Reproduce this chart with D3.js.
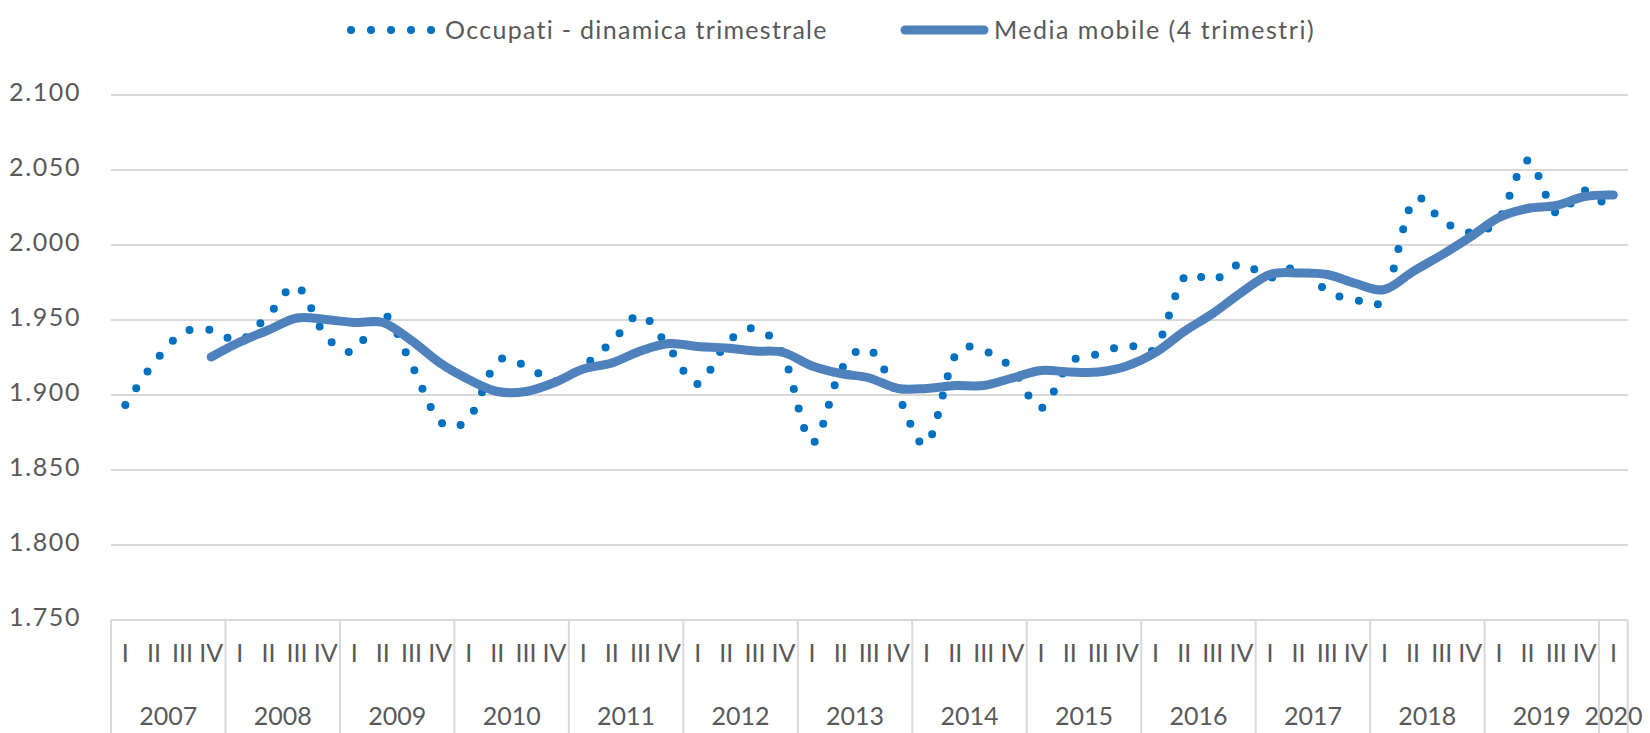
<!DOCTYPE html>
<html>
<head>
<meta charset="utf-8">
<script src="https://cdn.jsdelivr.net/npm/d3@7"></script>
<style>
  body { margin: 0; background: #fff; }
  svg text { font-family: Lato, "Open Sans", sans-serif; fill: #595959; }
</style>
</head>
<body>
<div id="chart"></div>
<script>
// years and quarter names of the category axis
const years = [2007, 2008, 2009, 2010, 2011, 2012, 2013, 2014, 2015, 2016, 2017, 2018, 2019, 2020];
const quarterNames = ['I', 'II', 'III', 'IV'];

// Occupati - dinamica trimestrale (migliaia), 2007 I .. 2020 I
const occupati = [
  1893, 1921, 1941, 1943,
  1936, 1953, 1972, 1939,
  1929, 1954, 1920, 1882,
  1884, 1922, 1919, 1909,
  1919, 1935, 1953, 1931,
  1907, 1934, 1944, 1926,
  1868, 1916, 1930, 1899,
  1867, 1926, 1929, 1917,
  1891, 1921, 1927, 1933,
  1931, 1978, 1976, 1987,
  1978, 1985, 1969, 1963,
  1965, 2029, 2016, 2008,
  2017, 2056, 2021, 2036,
  2020
];

// Media mobile (4 trimestri), starts at 2007 IV
const mediaMobile = [
  null, null, null, 1925,
  1935, 1943, 1951, 1950,
  1948, 1948, 1936, 1921,
  1910, 1902, 1902, 1908,
  1917, 1921, 1929, 1934,
  1932, 1931, 1929, 1928,
  1919, 1914, 1911, 1904,
  1904, 1906, 1906, 1911,
  1916, 1915, 1915, 1919,
  1928, 1942, 1954, 1968,
  1980, 1981, 1980, 1974,
  1970, 1982, 1993, 2005,
  2018, 2024, 2026, 2032,
  2033
];

const seriesNames = ['Occupati - dinamica trimestrale', 'Media mobile (4 trimestri)'];

// build the category table (year + quarter) for every value
const categories = occupati.map((d, i) => ({
  year: years[Math.floor(i / 4)],
  quarter: quarterNames[i % 4]
}));

const width = 1650;
const height = 733;
const plot = { left: 111, right: 1627.7, top: 94.5, bottom: 619.5 };
const gridColor = '#d9d9d9';
const dotColor = '#0070c0';
const lineColor = '#4f81bd';

const itLocale = d3.formatLocale({ decimal: ',', thousands: '.', grouping: [3], currency: ['€', ''] });
const fmt = itLocale.format(',');

const svg = d3.select('#chart').append('svg')
  .attr('width', width)
  .attr('height', height);

svg.append('rect').attr('width', width).attr('height', height).attr('fill', '#fff');

const x = d3.scaleBand()
  .domain(d3.range(categories.length))
  .range([plot.left, plot.right])
  .padding(0);
const xc = i => x(i) + x.bandwidth() / 2;

const y = d3.scaleLinear()
  .domain([1750, 2100])
  .range([plot.bottom, plot.top]);

// horizontal gridlines
svg.append('g')
  .attr('transform', `translate(${plot.left},0)`)
  .call(d3.axisLeft(y).ticks(7).tickSize(-(plot.right - plot.left)).tickFormat(''))
  .call(g => g.select('.domain').remove())
  .call(g => g.selectAll('line').attr('stroke', gridColor).attr('stroke-width', 2));

// y labels
svg.append('g')
  .attr('transform', `translate(${plot.left},0)`)
  .call(d3.axisLeft(y).ticks(7).tickSize(0).tickPadding(30).tickFormat(fmt))
  .call(g => g.select('.domain').remove())
  .call(g => g.selectAll('text')
    .attr('font-size', 25)
    .attr('dy', '0.22em')
    .attr('letter-spacing', 1.6)
    .style('font-family', 'Lato, "Open Sans", sans-serif')
    .attr('fill', '#595959'));

// quarter labels
svg.append('g')
  .attr('transform', `translate(0,${plot.bottom})`)
  .call(d3.axisBottom(x).tickSize(0).tickPadding(25).tickFormat(i => categories[i].quarter))
  .call(g => g.select('.domain').remove())
  .call(g => g.selectAll('text')
    .attr('font-size', 25)
    .style('font-family', 'Lato, "Open Sans", sans-serif')
    .attr('fill', '#595959'));

// year separators of the multi-level axis
const yearStarts = years.map((yr, k) => k * 4);
const axisBox = svg.append('g');
axisBox.selectAll('line.sep')
  .data(yearStarts)
  .join('line')
  .attr('class', 'sep')
  .attr('x1', d => x(d)).attr('x2', d => x(d))
  .attr('y1', plot.bottom).attr('y2', height)
  .attr('stroke', gridColor).attr('stroke-width', 2);
axisBox.append('line')
  .attr('x1', plot.right).attr('x2', plot.right)
  .attr('y1', plot.bottom).attr('y2', height)
  .attr('stroke', gridColor).attr('stroke-width', 2);

// year labels
axisBox.selectAll('text.year')
  .data(years)
  .join('text')
  .attr('class', 'year')
  .attr('x', (yr, k) => {
    const first = k * 4;
    const last = Math.min(first + 3, categories.length - 1);
    return (x(first) + x(last) + x.bandwidth()) / 2;
  })
  .attr('y', 725)
  .attr('text-anchor', 'middle')
  .attr('font-size', 25)
  .text(d => d);

// smoothed lines like the spreadsheet "smooth line" option
const line = d3.line()
  .defined(d => d != null)
  .x((d, i) => xc(i))
  .y(d => y(d))
  .curve(d3.curveCardinal.tension(0));

svg.append('path')
  .datum(occupati)
  .attr('d', line)
  .attr('fill', 'none')
  .attr('stroke', dotColor)
  .attr('stroke-width', 8)
  .attr('stroke-linecap', 'round')
  .attr('stroke-dasharray', '0 20');

svg.append('path')
  .datum(mediaMobile)
  .attr('d', line)
  .attr('fill', 'none')
  .attr('stroke', lineColor)
  .attr('stroke-width', 9)
  .attr('stroke-linecap', 'round')
  .attr('stroke-linejoin', 'round');

// legend
const legend = svg.append('g');
legend.append('line')
  .attr('x1', 351).attr('x2', 432).attr('y1', 30).attr('y2', 30)
  .attr('stroke', dotColor).attr('stroke-width', 8)
  .attr('stroke-linecap', 'round').attr('stroke-dasharray', '0 20');
legend.append('text')
  .attr('x', 445).attr('y', 30).attr('dy', '0.35em')
  .attr('font-size', 25)
  .attr('letter-spacing', 1.3)
  .text(seriesNames[0]);
legend.append('line')
  .attr('x1', 905).attr('x2', 984).attr('y1', 30).attr('y2', 30)
  .attr('stroke', lineColor).attr('stroke-width', 9)
  .attr('stroke-linecap', 'round');
legend.append('text')
  .attr('x', 994).attr('y', 30).attr('dy', '0.35em')
  .attr('font-size', 25)
  .attr('letter-spacing', 1.5)
  .text(seriesNames[1]);
</script>
</body>
</html>
